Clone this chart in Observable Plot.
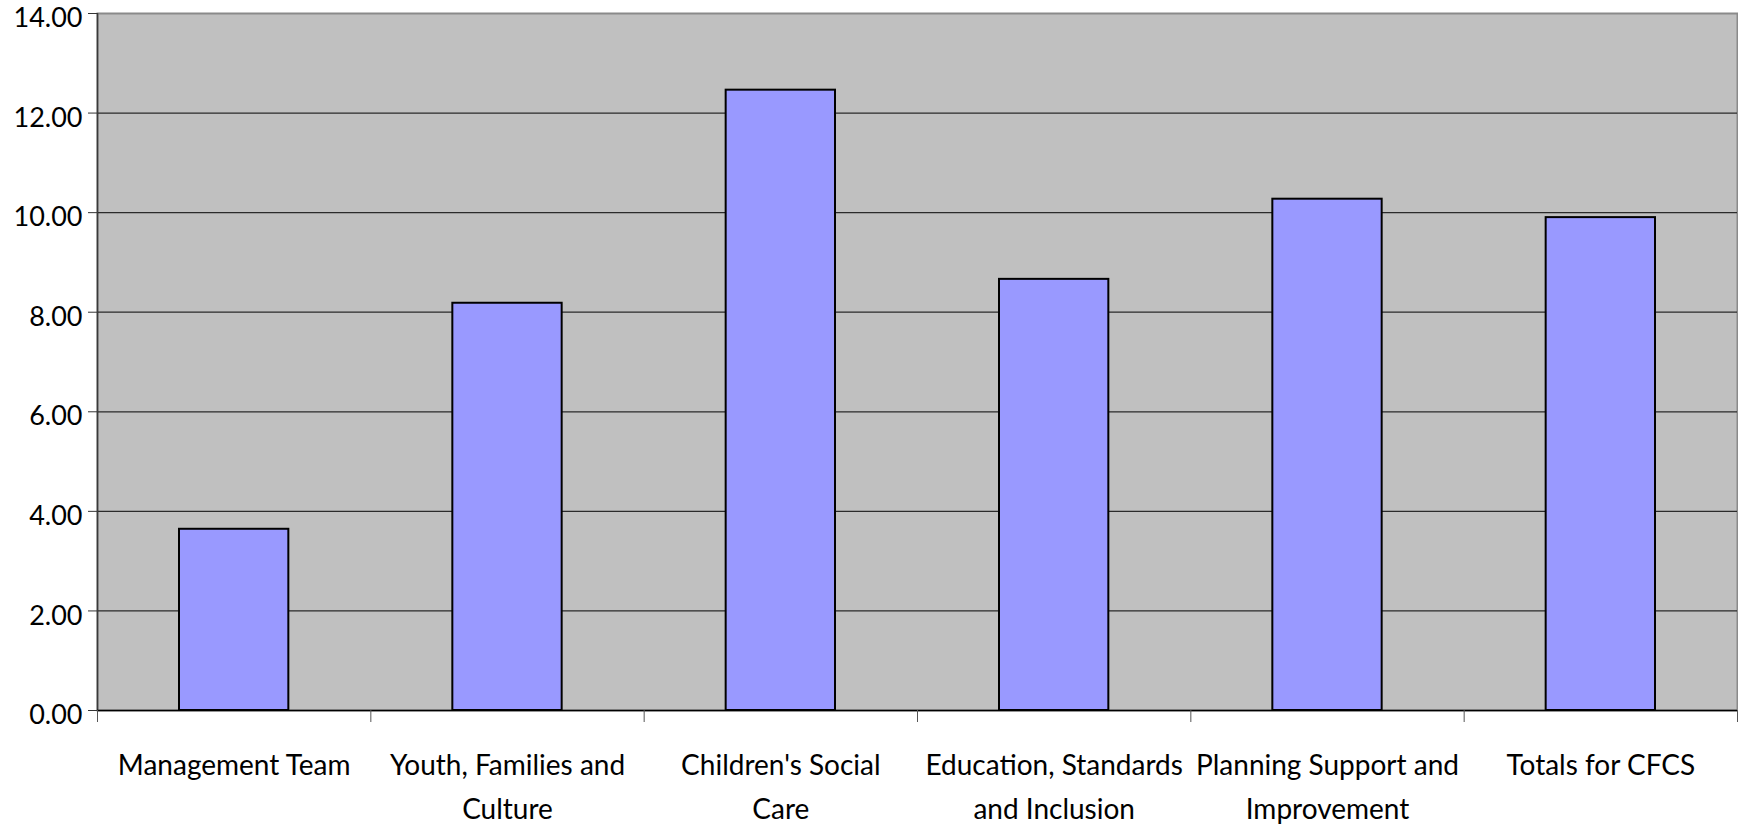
<!DOCTYPE html>
<html>
<head>
<meta charset="utf-8">
<script src="https://cdn.jsdelivr.net/npm/d3@7"></script>
<script src="https://cdn.jsdelivr.net/npm/@observablehq/plot@0.6"></script>
<style>
  html, body { margin: 0; padding: 0; background: #fff; }
</style>
</head>
<body>
<div id="chart"></div>
<script>
// Directorate categories (line breaks as they wrap under the axis)
const categories = [
  "Management Team",
  "Youth, Families and\nCulture",
  "Children's Social\nCare",
  "Education, Standards\nand Inclusion",
  "Planning Support and\nImprovement",
  "Totals for CFCS"
];
const values = [3.64, 8.18, 12.46, 8.66, 10.27, 9.90];
const yTicks = [0, 2, 4, 6, 8, 10, 12, 14];

const data = categories.map((name, i) => ({name, i, value: values[i]}));
const boundaries = d3.range(categories.length + 1);
const centers = categories.map((_, i) => i + 0.5);

const chart = Plot.plot({
  width: 1738,
  height: 827,
  marginLeft: 97,
  marginRight: 1,
  marginTop: 13,
  marginBottom: 117,
  style: {fontFamily: "Lato", background: "#fff", color: "#000"},
  x: {domain: [0, categories.length], axis: null, label: null},
  y: {domain: [0, 14], axis: null, label: null},
  marks: [
    Plot.frame({fill: "#c0c0c0", stroke: "#8a8a8a", strokeWidth: 2}),
    Plot.gridY({ticks: yTicks.slice(1, -1), stroke: "#2a2a2a", strokeOpacity: 1, strokeWidth: 1.2}),
    Plot.ruleX([0], {stroke: "#3a3a3a", strokeWidth: 1.5}),
    Plot.rect(data, {
      x1: d => d.i + 0.3,
      x2: d => d.i + 0.7,
      y1: 0,
      y2: "value",
      fill: "#9999ff",
      stroke: "#000",
      strokeWidth: 2
    }),
    Plot.ruleY([0], {stroke: "#000", strokeWidth: 1.5}),
    // y tick marks
    Plot.axisY({ticks: yTicks, tickSize: 9, tickFormat: () => "", stroke: "#333", label: null}),
    // y tick labels, set slightly below their ticks
    Plot.axisY({
      ticks: yTicks,
      tickFormat: d3.format(".2f"),
      tickSize: 0,
      tickPadding: 15,
      fontSize: 27,
      dy: 5,
      label: null
    }),
    // category boundary ticks
    Plot.axisX({ticks: boundaries, tickSize: 12, tickFormat: () => "", stroke: "#555", label: null}),
    // category labels
    Plot.axisX({
      ticks: centers,
      tickSize: 0,
      tickPadding: 34,
      tickFormat: d => categories[Math.floor(d)],
      fontSize: 28,
      lineHeight: 1.55,
      label: null
    })
  ]
});

document.getElementById("chart").append(chart);
</script>
</body>
</html>
